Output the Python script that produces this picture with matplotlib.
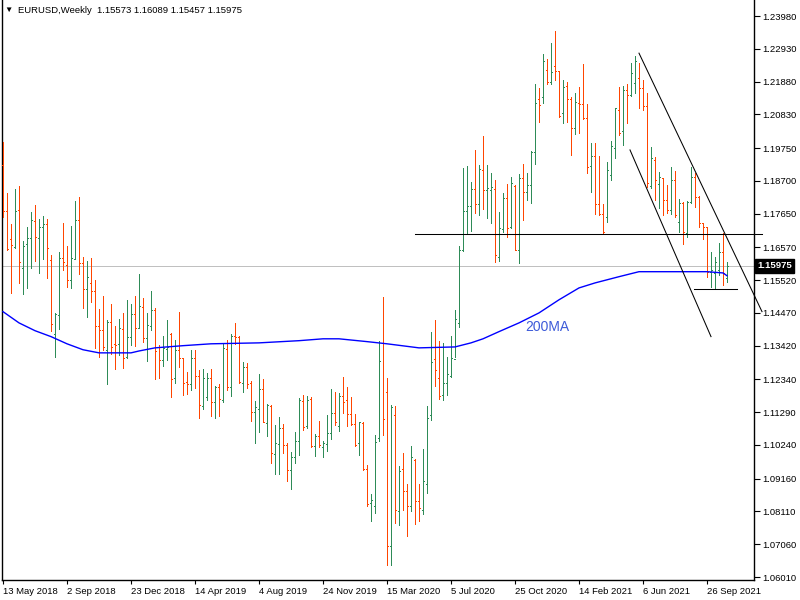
import matplotlib
matplotlib.use("Agg")
import matplotlib.pyplot as plt
import matplotlib.transforms as mtransforms
import numpy as np
import pandas as pd

# weekly EURUSD bars, first week starting 13 May 2018
start_date = "2018-05-13"

opens = [1.1921, 1.1774, 1.1684, 1.1659, 1.1777, 1.1591, 1.1668, 1.1687, 1.1742, 1.1687,
         1.1723, 1.1732, 1.1617, 1.1380, 1.1441, 1.1623, 1.1601, 1.1553, 1.1620, 1.1745,
         1.1607, 1.1524, 1.1543, 1.1518, 1.1406, 1.1393, 1.1329, 1.1419, 1.1348, 1.1348,
         1.1396, 1.1307, 1.1371, 1.1444, 1.1399, 1.1467, 1.1367, 1.1406, 1.1457, 1.1339,
         1.1297, 1.1332, 1.1380, 1.1239, 1.1329, 1.1303, 1.1227, 1.1220, 1.1303, 1.1246,
         1.1150, 1.1179, 1.1239, 1.1163, 1.1211, 1.1169, 1.1332, 1.1211, 1.1374, 1.1371,
         1.1223, 1.1275, 1.1223, 1.1131, 1.1140, 1.1204, 1.1095, 1.1150, 1.0996, 1.1028,
         1.1079, 1.1025, 1.0945, 1.0987, 1.1038, 1.1166, 1.1086, 1.1172, 1.1022, 1.1054,
         1.1019, 1.1028, 1.1063, 1.1127, 1.1086, 1.1182, 1.1169, 1.1124, 1.1092, 1.1031,
         1.1095, 1.0948, 1.0839, 1.0827, 1.1047, 1.1351, 1.1195, 1.0699, 1.1121, 1.0814,
         1.0948, 1.0875, 1.0827, 1.0977, 1.0843, 1.0817, 1.0900, 1.1121, 1.1300, 1.1239,
         1.1185, 1.1223, 1.1246, 1.1300, 1.1415, 1.1649, 1.1774, 1.1790, 1.1844, 1.1796,
         1.1905, 1.1841, 1.1841, 1.1844, 1.1627, 1.1716, 1.1815, 1.1723, 1.1854, 1.1649,
         1.1879, 1.1835, 1.1857, 1.1963, 1.2132, 1.2139, 1.2225, 1.2187, 1.2238, 1.2222,
         1.2087, 1.2174, 1.2132, 1.2039, 1.2119, 1.2116, 1.2071, 1.1918, 1.1950, 1.1796,
         1.1764, 1.1755, 1.1889, 1.1975, 1.2097, 1.2030, 1.2161, 1.2145, 1.2183, 1.2199,
         1.2167, 1.2110, 1.1854, 1.1937, 1.1860, 1.1879, 1.1809, 1.1777, 1.1873, 1.1739,
         1.1799, 1.1703, 1.1803, 1.1883, 1.1819, 1.1735, 1.1723, 1.1579, 1.1575, 1.1585,
         1.1643, 1.15573]

highs = [1.1995, 1.1831, 1.1732, 1.1844, 1.1854, 1.1678, 1.1723, 1.1771, 1.1793, 1.1748,
         1.1758, 1.1748, 1.1633, 1.1447, 1.1643, 1.1735, 1.1662, 1.1726, 1.1806, 1.1819,
         1.1627, 1.1614, 1.1623, 1.1553, 1.1460, 1.1502, 1.1425, 1.1476, 1.1406, 1.1428,
         1.1447, 1.1489, 1.1476, 1.1502, 1.1572, 1.1495, 1.1447, 1.1518, 1.1463, 1.1345,
         1.1374, 1.1425, 1.1383, 1.1361, 1.1451, 1.1303, 1.1259, 1.1329, 1.1329, 1.1265,
         1.1268, 1.1255, 1.1268, 1.1214, 1.1220, 1.1351, 1.1361, 1.1380, 1.1415, 1.1374,
         1.1291, 1.1287, 1.1230, 1.1166, 1.1252, 1.1236, 1.1156, 1.1153, 1.1089, 1.1115,
         1.1092, 1.1031, 1.1003, 1.1067, 1.1175, 1.1185, 1.1182, 1.1179, 1.1060, 1.1102,
         1.1038, 1.1121, 1.1204, 1.1195, 1.1191, 1.1243, 1.1211, 1.1179, 1.1124, 1.1099,
         1.1099, 1.0961, 1.0868, 1.1057, 1.1358, 1.1499, 1.1239, 1.1153, 1.1150, 1.0958,
         1.0999, 1.0900, 1.1022, 1.0980, 1.0900, 1.1012, 1.1150, 1.1387, 1.1425, 1.1358,
         1.1351, 1.1307, 1.1374, 1.1457, 1.1662, 1.1911, 1.1918, 1.1867, 1.1969, 1.1921,
         1.2014, 1.1921, 1.1895, 1.1873, 1.1771, 1.1831, 1.1860, 1.1883, 1.1857, 1.1892,
         1.1924, 1.1895, 1.1966, 1.2180, 1.2167, 1.2276, 1.2260, 1.2311, 1.2350, 1.2222,
         1.2193, 1.2187, 1.2139, 1.2151, 1.2171, 1.2244, 1.2116, 1.1991, 1.1991, 1.1950,
         1.1796, 1.1931, 1.1998, 1.2103, 1.2171, 1.2174, 1.2180, 1.2247, 1.2270, 1.2247,
         1.2193, 1.2151, 1.1979, 1.1947, 1.1899, 1.1879, 1.1857, 1.1915, 1.1902, 1.1812,
         1.1803, 1.1806, 1.1915, 1.1895, 1.1822, 1.1735, 1.1723, 1.1643, 1.1627, 1.1671,
         1.1703, 1.16089]

lows = [1.1755, 1.1649, 1.1511, 1.1655, 1.1543, 1.1508, 1.1527, 1.1591, 1.1614, 1.1575,
        1.1620, 1.1559, 1.1390, 1.1307, 1.1396, 1.1585, 1.1531, 1.1527, 1.1620, 1.1572,
        1.1463, 1.1435, 1.1483, 1.1335, 1.1307, 1.1329, 1.1220, 1.1316, 1.1268, 1.1313,
        1.1271, 1.1303, 1.1345, 1.1342, 1.1403, 1.1355, 1.1294, 1.1393, 1.1236, 1.1239,
        1.1278, 1.1297, 1.1179, 1.1223, 1.1275, 1.1185, 1.1188, 1.1201, 1.1207, 1.1111,
        1.1140, 1.1169, 1.1118, 1.1111, 1.1118, 1.1163, 1.1201, 1.1182, 1.1348, 1.1223,
        1.1195, 1.1207, 1.1102, 1.1031, 1.1067, 1.1099, 1.1054, 1.0967, 1.0932, 1.0932,
        1.0999, 1.0907, 1.0884, 1.0967, 1.0993, 1.1073, 1.1079, 1.1019, 1.0990, 1.1019,
        1.0987, 1.1006, 1.1044, 1.1089, 1.1070, 1.1127, 1.1086, 1.1089, 1.1022, 1.0993,
        1.0945, 1.0830, 1.0779, 1.0807, 1.1038, 1.1057, 1.0641, 1.0638, 1.0775, 1.0769,
        1.0817, 1.0731, 1.0811, 1.0772, 1.0779, 1.0804, 1.0871, 1.1105, 1.1214, 1.1172,
        1.1169, 1.1185, 1.1243, 1.1307, 1.1403, 1.1646, 1.1700, 1.1710, 1.1767, 1.1761,
        1.1780, 1.1751, 1.1735, 1.1611, 1.1614, 1.1707, 1.1691, 1.1719, 1.1649, 1.1607,
        1.1745, 1.1809, 1.1799, 1.1924, 1.2059, 1.2119, 1.2180, 1.2180, 1.2193, 1.2075,
        1.2055, 1.2059, 1.1953, 1.2020, 1.2023, 1.2068, 1.1895, 1.1835, 1.1764, 1.1761,
        1.1703, 1.1739, 1.1873, 1.1943, 1.2017, 1.1985, 1.2055, 1.2142, 1.2151, 1.2103,
        1.2097, 1.1851, 1.1847, 1.1809, 1.1783, 1.1761, 1.1767, 1.1764, 1.1755, 1.1707,
        1.1668, 1.1691, 1.1799, 1.1787, 1.1723, 1.1684, 1.1563, 1.1531, 1.1527, 1.1569,
        1.1537, 1.15457]

closes = [1.1774, 1.1652, 1.1665, 1.1774, 1.1611, 1.1662, 1.1687, 1.1745, 1.1691, 1.1723,
          1.1732, 1.1655, 1.1412, 1.1444, 1.1623, 1.1611, 1.1553, 1.1623, 1.1745, 1.1607,
          1.1524, 1.1563, 1.1518, 1.1406, 1.1393, 1.1339, 1.1419, 1.1339, 1.1345, 1.1399,
          1.1303, 1.1371, 1.1444, 1.1399, 1.1470, 1.1367, 1.1409, 1.1457, 1.1326, 1.1297,
          1.1335, 1.1339, 1.1236, 1.1329, 1.1303, 1.1223, 1.1220, 1.1303, 1.1246, 1.1153,
          1.1239, 1.1239, 1.1163, 1.1211, 1.1172, 1.1335, 1.1211, 1.1374, 1.1371, 1.1227,
          1.1275, 1.1220, 1.1131, 1.1147, 1.1204, 1.1099, 1.1153, 1.0999, 1.1031, 1.1079,
          1.1025, 1.0945, 1.0987, 1.1038, 1.1169, 1.1083, 1.1169, 1.1022, 1.1054, 1.1025,
          1.1031, 1.1063, 1.1127, 1.1099, 1.1182, 1.1163, 1.1124, 1.1092, 1.1025, 1.1099,
          1.0948, 1.0836, 1.0849, 1.1035, 1.1294, 1.1108, 1.0699, 1.1147, 1.0817, 1.0942,
          1.0875, 1.0827, 1.0987, 1.0843, 1.0823, 1.0907, 1.1111, 1.1291, 1.1265, 1.1182,
          1.1223, 1.1252, 1.1303, 1.1428, 1.1649, 1.1774, 1.1790, 1.1844, 1.1796, 1.1908,
          1.1841, 1.1847, 1.1851, 1.1633, 1.1719, 1.1815, 1.1719, 1.1863, 1.1649, 1.1879,
          1.1835, 1.1857, 1.1963, 1.2119, 1.2113, 1.2254, 1.2187, 1.2219, 1.2222, 1.2078,
          1.2171, 1.2132, 1.2039, 1.2123, 1.2116, 1.2071, 1.1915, 1.1950, 1.1796, 1.1764,
          1.1707, 1.1905, 1.1982, 1.2103, 1.2023, 1.2161, 1.2145, 1.2215, 1.2254, 1.2167,
          1.2110, 1.1863, 1.1943, 1.1873, 1.1883, 1.1809, 1.1777, 1.1873, 1.1761, 1.1799,
          1.1707, 1.1803, 1.1883, 1.1819, 1.1735, 1.1723, 1.1579, 1.1585, 1.1611, 1.1643,
          1.1575, 1.15975]

# 200 week moving average, read at a few bars
ma_bars = [0, 4, 8, 12, 16, 20, 24, 32, 34, 38, 45, 52, 64, 74, 80, 84, 91, 96, 104,
           113, 117, 120, 124, 129, 134, 139, 144, 148, 154, 159, 176, 180, 181]
ma_vals = [1.1451, 1.1415, 1.1390, 1.1371, 1.1348, 1.1329, 1.1319, 1.1319, 1.1325, 1.1335,
           1.1342, 1.1348, 1.1351, 1.1358, 1.1364, 1.1364, 1.1355, 1.1348, 1.1335, 1.1338,
           1.1351, 1.1364, 1.1387, 1.1415, 1.1447, 1.1489, 1.1527, 1.1543, 1.1563, 1.1579,
           1.1579, 1.1575, 1.1566]

# drawn objects: (bar, price) end points
hline_level = [(103, 1.1700), (189.75, 1.1700)]
low_level = [(172.75, 1.1524), (183.5, 1.1524)]
upper_channel = [(159, 1.2279), (189.75, 1.1451)]
lower_channel = [(156.75, 1.1969), (177, 1.1371)]

price_ticks = [1.23980, 1.22930, 1.21880, 1.20830, 1.19750, 1.18700, 1.17650, 1.16570,
               1.15520, 1.14470, 1.13420, 1.12340, 1.11290, 1.10240, 1.09160, 1.08110,
               1.07060, 1.06010]
date_labels = ["13 May 2018", "2 Sep 2018", "23 Dec 2018", "14 Apr 2019", "4 Aug 2019",
               "24 Nov 2019", "15 Mar 2020", "5 Jul 2020", "25 Oct 2020", "14 Feb 2021",
               "6 Jun 2021", "26 Sep 2021"]
last_price = 1.15975

plt.rcParams['font.family'] = ['Liberation Sans', 'DejaVu Sans']

UP = "#2e8b57"
DOWN = "#ff4500"
PX = 0.72  # one pixel in points at 100 dpi

o = np.array(opens)
h = np.array(highs)
l = np.array(lows)
c = np.array(closes)
idx = np.arange(len(c))
cols = [UP if cc >= oo else DOWN for oo, cc in zip(o, c)]

fig = plt.figure(figsize=(8, 6), dpi=100)
ax = fig.add_axes([2 / 800, 20 / 600, 752 / 800, 580 / 600])

ax.set_xlim(-0.25, 187.75)
ax.set_ylim(1.05914, 1.24493)

ax.axhline(last_price, color="#c0c0c0", lw=PX, zorder=1)

ax.vlines(idx, l, h, colors=cols, lw=PX, antialiased=False, zorder=3)
ax.hlines(o, idx - 0.3, idx, colors=cols, lw=PX, antialiased=False, zorder=3)
ax.hlines(c, idx, idx + 0.3, colors=cols, lw=PX, antialiased=False, zorder=3)

ax.plot(ma_bars, ma_vals, color="#0000ff", lw=1.0, zorder=4)
ax.text(130.5, 1.1402, "200MA", color="#3d5bd9", fontsize=10, va="center", ha="left")

for line in [hline_level, low_level, upper_channel, lower_channel]:
    xs, ys = zip(*line)
    ax.plot(xs, ys, color="black", lw=0.75, clip_on=False, zorder=5)

# axes look
ax.spines["top"].set_visible(False)
for side in ["left", "right", "bottom"]:
    ax.spines[side].set_color("black")
    ax.spines[side].set_linewidth(1)

ax.yaxis.tick_right()
ax.set_yticks(price_ticks)
ax.set_yticklabels([f"{p:.5f}" for p in price_ticks])
ax.tick_params(axis="y", direction="out", length=4, width=0.8, labelsize=6.8, pad=2)

first = pd.Timestamp(start_date)
tick_pos = [(pd.Timestamp(d) - first).days // 7 for d in date_labels]
ax.set_xticks(tick_pos)
ax.set_xticklabels(date_labels, ha="left")
ax.tick_params(axis="x", direction="out", length=3, width=0.8, labelsize=6.8, pad=2)

# last price box on the scale
trans = mtransforms.blended_transform_factory(ax.transAxes, ax.transData)
ax.text(1.004, last_price, f"{last_price:.5f}", transform=trans, color="white",
        fontsize=6.8, fontweight="bold", va="center", ha="left", zorder=6,
        bbox=dict(boxstyle="square,pad=0.25", fc="black", ec="black"))

fig.text(0.006, 0.982, "\u25bc", fontsize=6, va="center", ha="left")
fig.text(0.022, 0.982, "EURUSD,Weekly  1.15573 1.16089 1.15457 1.15975",
         fontsize=6.8, va="center", ha="left")

fig.savefig("out.png", dpi=100)
